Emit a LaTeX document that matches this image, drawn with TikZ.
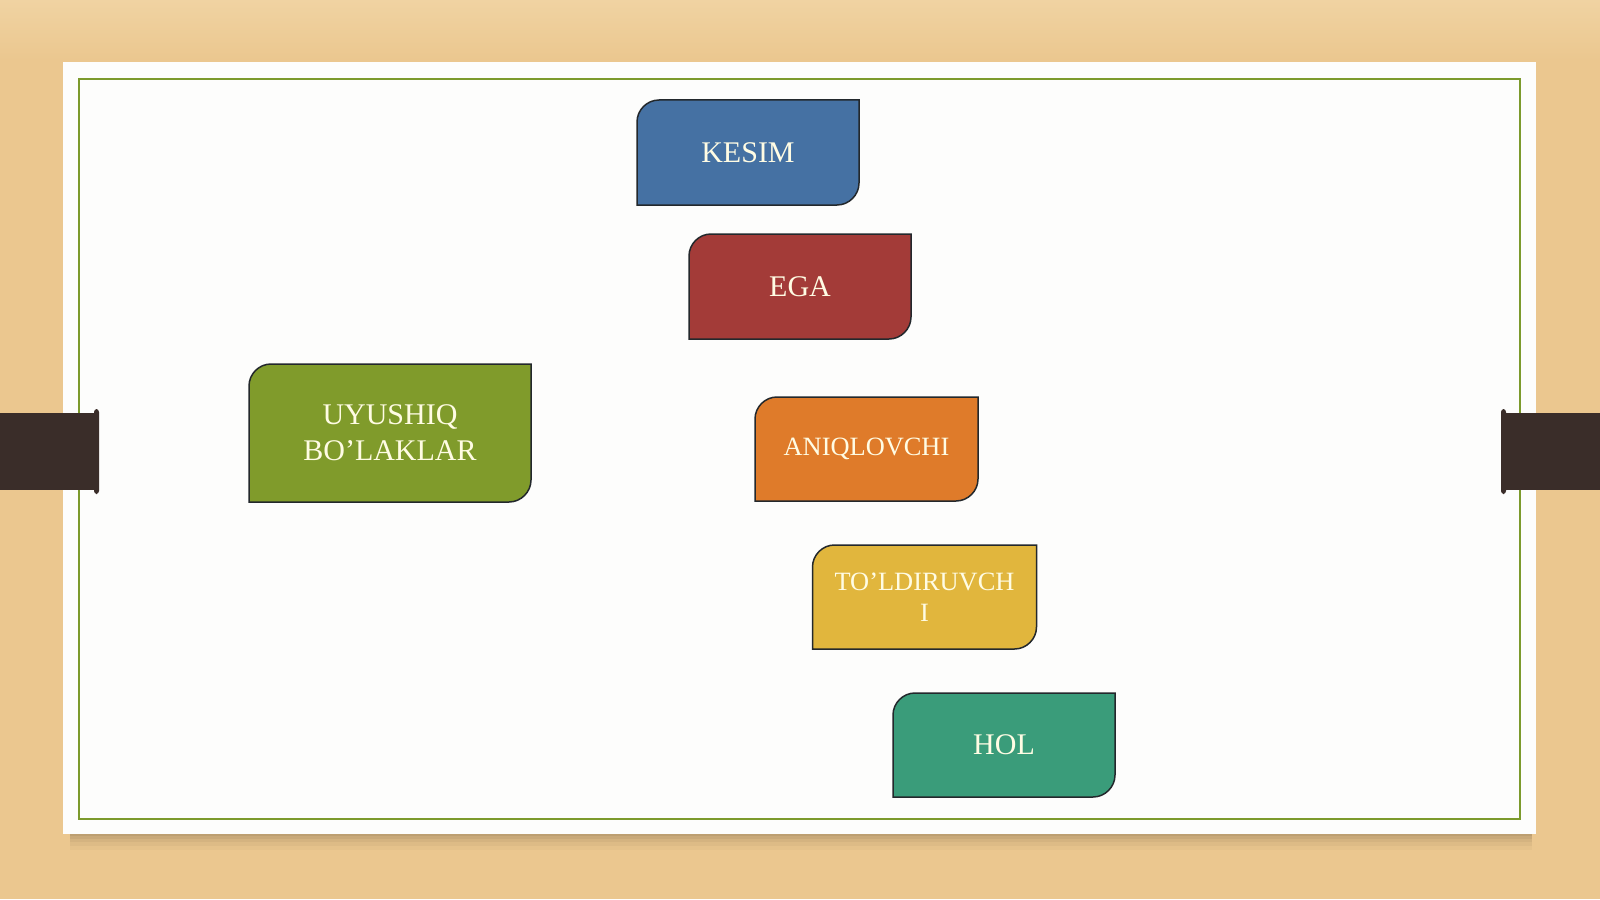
\documentclass[tikz,border=0pt]{standalone}
\usepackage{fontspec}
\setmainfont{Liberation Serif}
\usetikzlibrary{calc}
\pgfdeclarelayer{bg}
\pgfdeclarelayer{shapes}
\pgfsetlayers{bg,shapes,main}
\definecolor{wood}{HTML}{EBC78F}
\definecolor{woodlight}{HTML}{F0D3A2}
\definecolor{card}{HTML}{FDFDFC}
\definecolor{frame}{HTML}{7C9A2C}
\definecolor{tab}{HTML}{3A2D29}
\definecolor{boxline}{HTML}{23282C}
\definecolor{txtc}{HTML}{FFFCE4}
\definecolor{cblue}{HTML}{4571A3}
\definecolor{cred}{HTML}{A33B38}
\definecolor{cgreen}{HTML}{809B2B}
\definecolor{corange}{HTML}{DF7B2A}
\definecolor{cyellow}{HTML}{E1B63D}
\definecolor{cteal}{HTML}{3A9C7A}
\tikzset{
  boxnode/.style={inner sep=0pt, outer sep=0pt, text=txtc, align=center,
    font=\fontsize{15}{18}\selectfont},
  smalltext/.style={font=\fontsize{13.2}{15.5}\selectfont},
  boxframe/.style={draw=boxline, line width=0.75pt},
}
\newcommand\snipshape[2]{%
  \begin{pgfonlayer}{shapes}
  \draw[boxframe, fill=#2] (#1.south west) -- ($(#1.north west)+(0,22)$)
    .. controls ($(#1.north west)+(0,10)$) and ($(#1.north west)+(10,0)$) .. ($(#1.north west)+(22,0)$)
    -- (#1.north east) -- ($(#1.south east)+(0,-22)$)
    .. controls ($(#1.south east)+(0,-10)$) and ($(#1.south east)+(-10,0)$) .. ($(#1.south east)+(-22,0)$)
    -- cycle;
  \end{pgfonlayer}}
\begin{document}
\begin{tikzpicture}[x=0.5pt, y=-0.5pt]
\useasboundingbox (0,0) rectangle (1600,899);
\begin{pgfonlayer}{bg}
  % wooden background
  \fill[wood] (0,0) rectangle (1600,899);
  \shade[top color=woodlight, bottom color=wood] (0,0) rectangle (1600,60);
  % soft shadow of the card
  \foreach \d/\o in {16/0.025, 12/0.03, 8/0.04, 5/0.05, 2/0.06}
    \fill[black, opacity=\o] (70,70) rectangle (1532,834+\d);
  % card
  \fill[card] (63,62) rectangle (1536,834);
  \draw[frame, line width=1pt] (79,79) rectangle (1520,819);
  % dark tabs
  \fill[tab] (0,413) rectangle (96,490);
  \fill[tab, rounded corners=1.5pt] (94,409) rectangle (99,494);
  \fill[tab] (1504,413) rectangle (1600,490);
  \fill[tab, rounded corners=1.5pt] (1501,409) rectangle (1506,494);
\end{pgfonlayer}

\node[boxnode, minimum width=111pt, minimum height=52.5pt] (kesim) at (748,152.5) {KESIM};
\node[boxnode, minimum width=111pt, minimum height=52.5pt] (ega) at (800,286.5) {EGA};
\node[boxnode, minimum width=141pt, minimum height=69pt] (uyushiq) at (390,433) {UYUSHIQ\\BO’LAKLAR};
\node[boxnode, smalltext, minimum width=111.5pt, minimum height=52pt] (aniq) at (866.5,449) {ANIQLOVCHI};
\node[boxnode, smalltext, minimum width=112pt, minimum height=52pt] (toldir) at (924.5,597) {TO’LDIRUVCH\\I};
\node[boxnode, minimum width=111pt, minimum height=52pt] (hol) at (1004,745) {HOL};

\snipshape{kesim}{cblue}
\snipshape{ega}{cred}
\snipshape{uyushiq}{cgreen}
\snipshape{aniq}{corange}
\snipshape{toldir}{cyellow}
\snipshape{hol}{cteal}
\end{tikzpicture}
\end{document}
